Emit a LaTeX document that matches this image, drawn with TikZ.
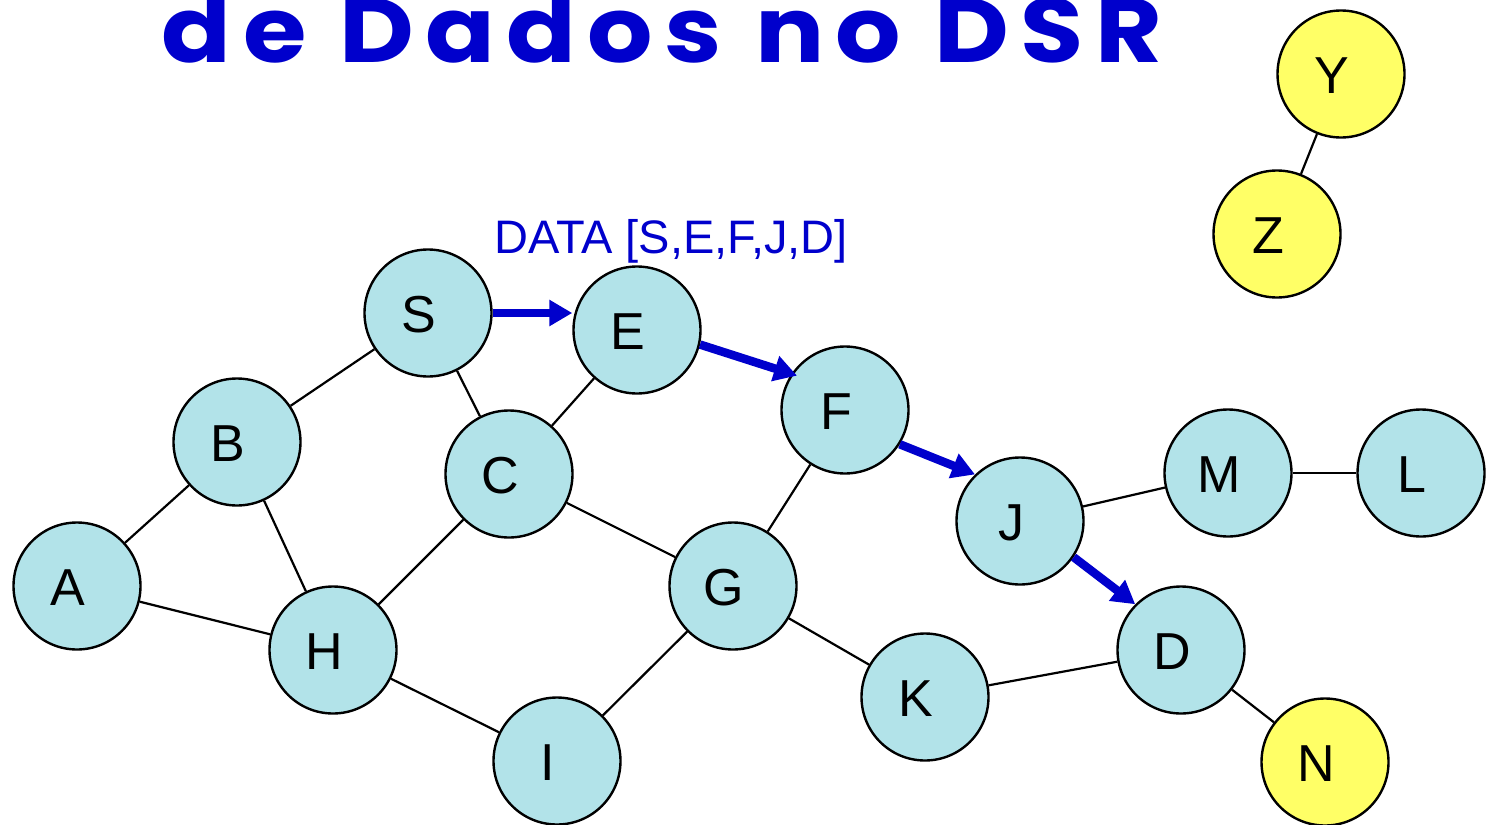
\documentclass[tikz,border=0pt]{standalone}
\usepackage{fontspec}
\setmainfont{Liberation Sans}
\newfontfamily\titlefont[LetterSpace=11]{Poppins}
\usetikzlibrary{arrows.meta}

\definecolor{dsrblue}{RGB}{0,0,204}
\definecolor{bubblefill}{RGB}{178,227,233}
\definecolor{idlefill}{RGB}{255,255,102}

\begin{document}
\begin{tikzpicture}[x=1pt, y=-1pt,
    bubble/.style={circle, draw=black, line width=2.4pt, fill=bubblefill,
      minimum size=127pt, inner sep=0pt,
      label={[font=\fontsize{52}{60}\selectfont, xshift=-9pt, yshift=-2pt]center:#1}},
    idle/.style={bubble=#1, fill=idlefill},
    link/.style={line width=2.2pt},
    hop/.style={line width=8.5pt, dsrblue, -{Triangle[length=23pt, width=25pt]}}]

      \useasboundingbox (0,0) rectangle (1492,825);
      \clip (0,0) rectangle (1492,825);

      % title, cut at the top of the slide
      \node[anchor=base, inner sep=0pt, text=dsrblue] (title) at (662,62)
        {\scalebox{1.13}[1.0]{\titlefont\bfseries\fontsize{91}{100}\selectfont de Dados no DSR}};
      \node[anchor=base, inner sep=0pt, text=dsrblue, font=\fontsize{47}{56}\selectfont] (route) at (671,253) {DATA [S,E,F,J,D]};

      \node[bubble=S] (S) at (428,313) {};
      \node[bubble=E] (E) at (637,330) {};
      \node[bubble=F] (F) at (845,410) {};
      \node[bubble=B] (B) at (237,442) {};
      \node[bubble=C] (C) at (509,474) {};
      \node[bubble=A] (A) at (77,586) {};
      \node[bubble=H] (H) at (333,650) {};
      \node[bubble=G] (G) at (733,586) {};
      \node[bubble=I] (I) at (557,761) {};
      \node[bubble=K] (K) at (925,697) {};
      \node[bubble=J] (J) at (1020,521) {};
      \node[bubble=M] (M) at (1228,473) {};
      \node[bubble=L] (L) at (1421,473) {};
      \node[bubble=D] (D) at (1181,650) {};
      \node[idle=N] (N) at (1325,762) {};
      \node[idle=Y] (Y) at (1341,74) {};
      \node[idle=Z] (Z) at (1277,234) {};

      \draw[link] (S) to (B);
      \draw[link] (S) to (C);
      \draw[link] (E) to (C);
      \draw[link] (B) to (A);
      \draw[link] (B) to (H);
      \draw[link] (A) to (H);
      \draw[link] (C) to (H);
      \draw[link] (C) to (G);
      \draw[link] (H) to (I);
      \draw[link] (G) to (I);
      \draw[link] (G) to (F);
      \draw[link] (G) to (K);
      \draw[link] (K) to (D);
      \draw[link] (J) to (M);
      \draw[link] (M) to (L);
      \draw[link] (D) to (N);
      \draw[link] (Y) to (Z);

      % route of the data packet
      \draw[hop] (S.east) to (S.east -| E.west);
      \draw[hop, shorten >=-6pt] (E.-13) to (F.146);
      \draw[hop] (F.-32) to (J.134);
      \draw[hop] (J.-34) to (D.135);
      %\draw[hop] (D) to (N);
    \end{tikzpicture}
\end{document}
